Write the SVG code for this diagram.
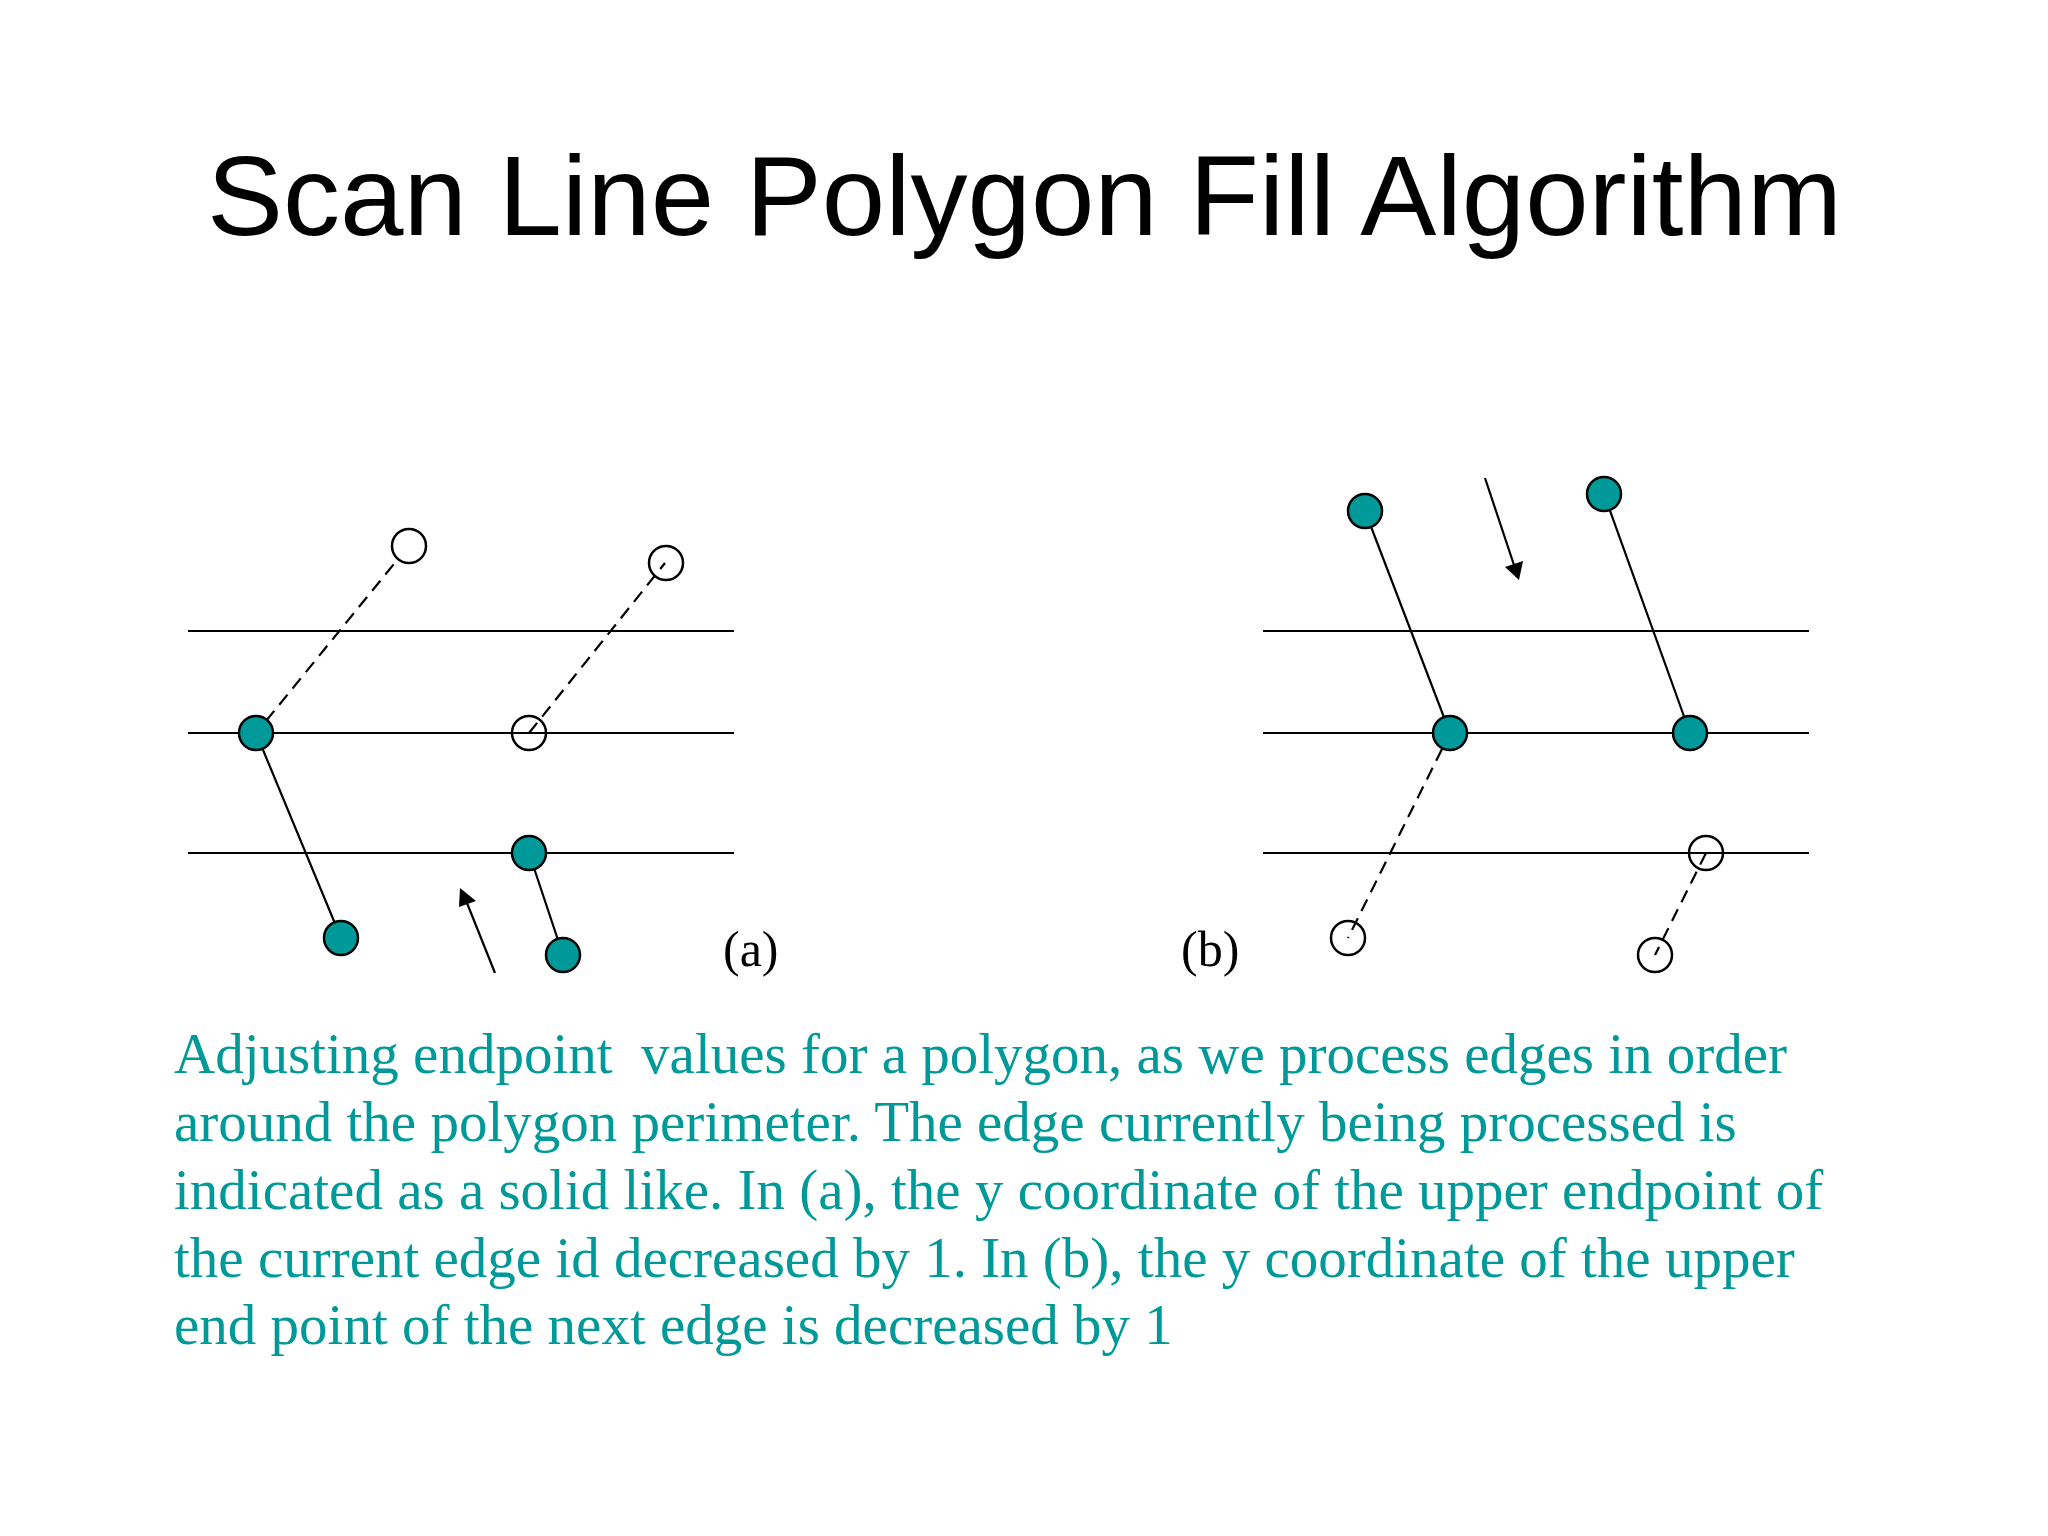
<svg xmlns="http://www.w3.org/2000/svg" width="2048" height="1536" viewBox="0 0 2048 1536">
<defs>
<style>
.scan{stroke:#000;stroke-width:2.2;fill:none}
.edge{stroke:#000;stroke-width:2.2;fill:none}
.dash{stroke:#000;stroke-width:2.2;fill:none;stroke-dasharray:13,8}
.head{fill:#000;stroke:none}
.on{fill:#009999;stroke:#000;stroke-width:2.5}
.off{fill:none;stroke:#000;stroke-width:2.5}
.title{font-family:"Liberation Sans",Arial,sans-serif;font-size:114px;fill:#000}
.lbl{font-family:"Liberation Serif","Times New Roman",serif;font-size:50px;fill:#000}
.desc{font-family:"Liberation Serif","Times New Roman",serif;font-size:57px;fill:#009999;white-space:pre}
</style>
</defs>
<rect width="2048" height="1536" fill="#fff"/>
<text class="title" x="207" y="235">Scan Line Polygon Fill Algorithm</text>

<g id="scanlines">
<line class="scan" x1="188" y1="631" x2="734" y2="631"/>
<line class="scan" x1="188" y1="733" x2="734" y2="733"/>
<line class="scan" x1="188" y1="853" x2="734" y2="853"/>
<line class="scan" x1="1263" y1="631" x2="1809" y2="631"/>
<line class="scan" x1="1263" y1="733" x2="1809" y2="733"/>
<line class="scan" x1="1263" y1="853" x2="1809" y2="853"/>
</g>

<g id="connectors">
<line class="dash" x1="266" y1="721" x2="398" y2="559"/>
<line class="dash" x1="529" y1="733" x2="665" y2="563"/>
<line class="edge" x1="256" y1="733" x2="341" y2="938"/>
<line class="edge" x1="529" y1="853" x2="563" y2="955"/>
<line class="edge" x1="495" y1="973" x2="467" y2="903"/>
<polygon class="head" points="460,888 476,901 459,907"/>
<line class="edge" x1="1365" y1="511" x2="1450" y2="733"/>
<line class="edge" x1="1604" y1="494" x2="1690" y2="733"/>
<line class="dash" x1="1442" y1="749" x2="1348" y2="938"/>
<line class="dash" x1="1706" y1="853" x2="1655" y2="955"/>
<line class="edge" x1="1485" y1="478" x2="1514" y2="565"/>
<polygon class="head" points="1519,580 1505,567 1523,561"/>
</g>

<g id="a-top-left"><circle class="off" cx="409" cy="546" r="17"/></g>
<g id="a-top-right"><circle class="off" cx="666" cy="563" r="17"/></g>
<g id="a-mid-left"><circle class="on" cx="256" cy="733" r="17"/></g>
<g id="a-mid-right"><circle class="off" cx="529" cy="733" r="17"/></g>
<g id="a-low-right"><circle class="on" cx="529" cy="853" r="17"/></g>
<g id="a-bot-left"><circle class="on" cx="341" cy="938" r="17"/></g>
<g id="a-bot-right"><circle class="on" cx="563" cy="955" r="17"/></g>
<g id="label-a"><text class="lbl" x="723" y="966">(a)</text></g>

<g id="b-top-left"><circle class="on" cx="1365" cy="511" r="17"/></g>
<g id="b-top-right"><circle class="on" cx="1604" cy="494" r="17"/></g>
<g id="b-mid-left"><circle class="on" cx="1450" cy="733" r="17"/></g>
<g id="b-mid-right"><circle class="on" cx="1690" cy="733" r="17"/></g>
<g id="b-low-right"><circle class="off" cx="1706" cy="853" r="17"/></g>
<g id="b-bot-left"><circle class="off" cx="1348" cy="938" r="17"/></g>
<g id="b-bot-right"><circle class="off" cx="1655" cy="955" r="17"/></g>
<g id="label-b"><text class="lbl" x="1181" y="966">(b)</text></g>

<g id="description">
<text class="desc" x="174" y="1073">Adjusting endpoint  values for a polygon, as we process edges in order</text>
<text class="desc" x="174" y="1141">around the polygon perimeter. The edge currently being processed is</text>
<text class="desc" x="174" y="1209">indicated as a solid like. In (a), the y coordinate of the upper endpoint of</text>
<text class="desc" x="174" y="1277">the current edge id decreased by 1. In (b), the y coordinate of the upper</text>
<text class="desc" x="174" y="1344">end point of the next edge is decreased by 1</text>
</g>
</svg>
